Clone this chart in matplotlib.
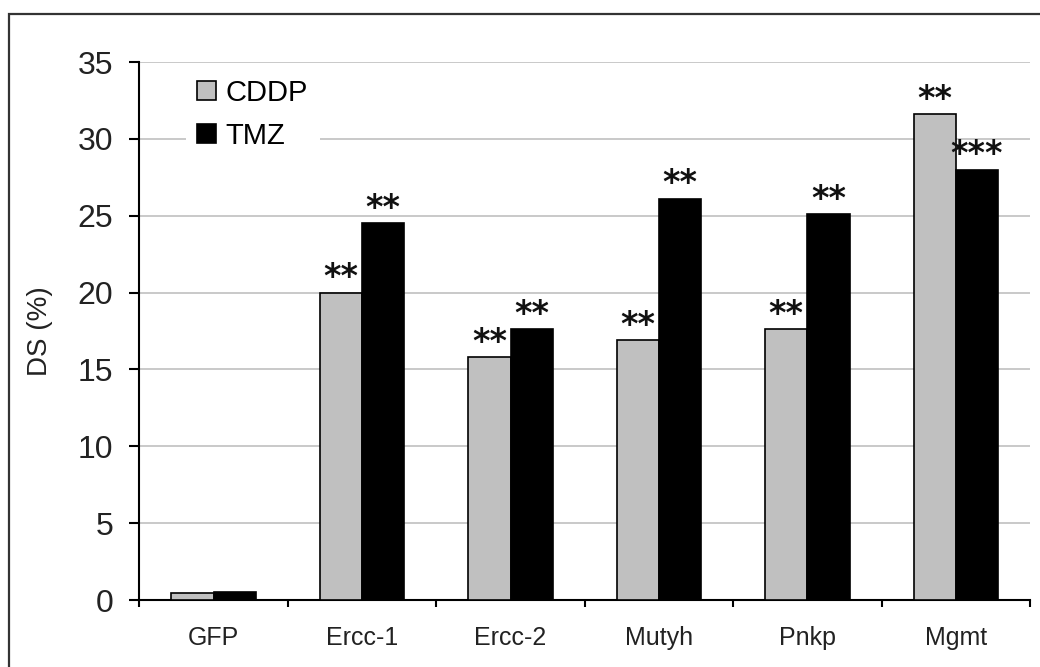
import numpy as np
import matplotlib.pyplot as plt
from matplotlib.patches import Rectangle

plt.rcParams['font.family'] = ['Liberation Sans', 'DejaVu Sans']

genes = ['GFP', 'Ercc-1', 'Ercc-2', 'Mutyh', 'Pnkp', 'Mgmt']
cddp = [0.45, 20.0, 15.8, 16.9, 17.6, 31.6]
tmz = [0.5, 24.5, 17.6, 26.1, 25.1, 28.0]
cddp_sig = ['', '**', '**', '**', '**', '**']
tmz_sig = ['', '**', '**', '**', '**', '***']

fig = plt.figure(figsize=(10.4, 6.67), dpi=100)
ax = fig.add_axes([0.1341, 0.1004, 0.8563, 0.8066])

x = np.arange(len(genes))
w = 0.285
b1 = ax.bar(x - w/2, cddp, w, color='#c0c0c0', edgecolor='black', linewidth=1.2, label='CDDP', zorder=3)
b2 = ax.bar(x + w/2, tmz, w, color='black', edgecolor='black', linewidth=1.2, label='TMZ', zorder=3)

# significance stars above the bars
for bars, sig in [(b1, cddp_sig), (b2, tmz_sig)]:
    for r, s in zip(bars, sig):
        if s:
            ax.annotate(s, (r.get_x() + r.get_width()/2, r.get_height()), xytext=(0, 4),
                        textcoords='offset points', ha='center', va='baseline',
                        fontsize=24, fontweight='bold', family='DejaVu Sans', color='#111111')

ax.set_xlim(-0.5, len(genes) - 0.5)
ax.set_ylim(0, 35)
ax.set_yticks(range(0, 36, 5))
ax.yaxis.grid(True, color='#c0c0c0', linewidth=1.2, zorder=0)
ax.set_axisbelow(True)

ax.set_xticks(x)
ax.set_xticklabels(genes)
ax.set_xticks(np.arange(-0.5, len(genes)), minor=True)
ax.tick_params(axis='x', which='major', length=0, pad=19, labelsize=18, labelcolor='#222222')
ax.tick_params(axis='x', which='minor', length=5, width=1.5, direction='out')
ax.tick_params(axis='y', length=7, width=1.5, direction='out', pad=12, labelsize=23, labelcolor='#222222')

for s in ['top', 'right']:
    ax.spines[s].set_visible(False)
for s in ['left', 'bottom']:
    ax.spines[s].set_linewidth(1.5)

ax.set_ylabel('DS (%)', fontsize=20, color='#222222')
ax.yaxis.set_label_coords(-0.097, 0.5)

leg = ax.legend(loc='upper left', bbox_to_anchor=(0.052, 0.99), fontsize=21,
                frameon=True, facecolor='white', edgecolor='none', framealpha=1,
                handlelength=0.62, handleheight=0.62, handletextpad=0.35,
                labelspacing=0.5, borderaxespad=0, borderpad=0.4, fancybox=False)
leg.set_zorder(5)

fig.add_artist(Rectangle((9/1040, -0.1), 1.2, (667-14)/667 + 0.1, transform=fig.transFigure,
                         fill=False, edgecolor='#333333', linewidth=1.6))

fig.savefig('out.png', dpi=100)
